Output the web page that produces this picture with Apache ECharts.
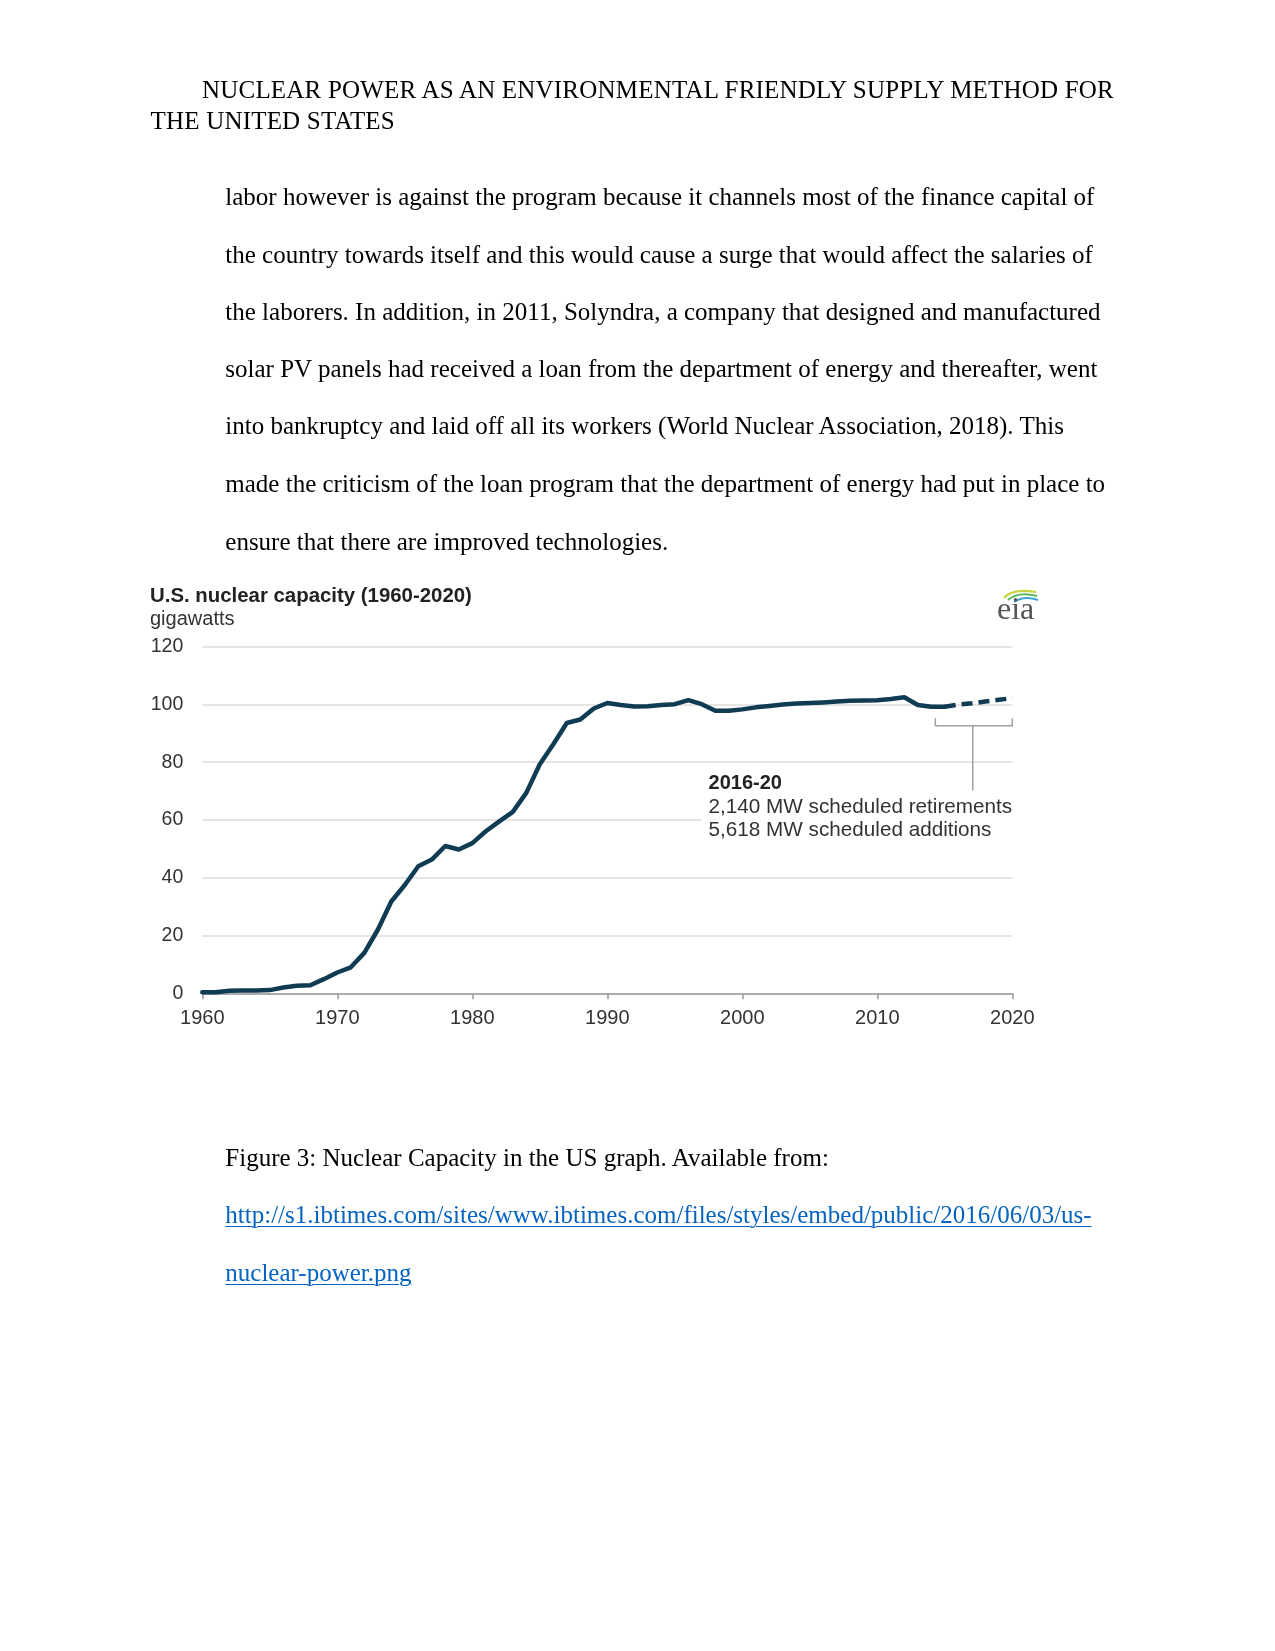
<!DOCTYPE html>
<html>
<head>
<meta charset="utf-8">
<script src="https://cdn.jsdelivr.net/npm/echarts@6/dist/echarts.min.js"></script>
<style>
  html, body { margin:0; padding:0; background:#fff; }
  #page { position:relative; width:1275px; height:1651px; overflow:hidden; }
  #chart { position:absolute; left:0; top:0; width:1275px; height:1651px; }
  .t { position:absolute; white-space:pre; font-family:'Liberation Serif','Times New Roman',serif;
       font-size:25px; line-height:25px; color:#000; z-index:2; }
  .hd { letter-spacing:0.2px; }
  .lnk { color:#0563c1; text-decoration:underline; text-decoration-thickness:1px; text-underline-offset:3px; }
</style>
</head>
<body>
<div id="page">
  <div id="chart"></div>
</div>
<script>
// ---- document text ----
const headerLines = [
  "NUCLEAR POWER AS AN ENVIRONMENTAL FRIENDLY SUPPLY METHOD FOR",
  "THE UNITED STATES"
];
const bodyLines = [
  "labor however is against the program because it channels most of the finance capital of",
  "the country towards itself and this would cause a surge that would affect the salaries of",
  "the laborers. In addition, in 2011, Solyndra, a company that designed and manufactured",
  "solar PV panels had received a loan from the department of energy and thereafter, went",
  "into bankruptcy and laid off all its workers (World Nuclear Association, 2018). This",
  "made the criticism of the loan program that the department of energy had put in place to",
  "ensure that there are improved technologies."
];
const captionText = "Figure 3: Nuclear Capacity in the US graph. Available from:";
const linkLines = [
  "http://s1.ibtimes.com/sites/www.ibtimes.com/files/styles/embed/public/2016/06/03/us-",
  "nuclear-power.png"
];

// ---- chart data (gigawatts) ----
const chartTitle = "U.S. nuclear capacity (1960-2020)";
const unitLabel = "gigawatts";
const histYears = [1960,1961,1962,1963,1964,1965,1966,1967,1968,1969,
  1970,1971,1972,1973,1974,1975,1976,1977,1978,1979,
  1980,1981,1982,1983,1984,1985,1986,1987,1988,1989,
  1990,1991,1992,1993,1994,1995,1996,1997,1998,1999,
  2000,2001,2002,2003,2004,2005,2006,2007,2008,2009,
  2010,2011,2012,2013,2014,2015];
const histCapacity = [0.4,0.4,0.9,1.0,1.0,1.1,2.0,2.6,2.8,4.9,
  7.2,9.0,14.0,22.0,31.8,37.5,44.0,46.3,51.0,49.8,
  52.0,56.1,59.5,62.8,69.4,79.3,86.2,93.6,94.8,98.6,
  100.5,99.8,99.3,99.4,99.8,100.1,101.5,100.1,97.8,97.8,
  98.3,99.0,99.5,100.0,100.3,100.5,100.7,101.0,101.3,101.4,
  101.5,101.9,102.5,99.8,99.2,99.2];
const projYears = [2015,2016,2017,2018,2019,2020];
const projCapacity = [99.2,100.0,100.4,101.0,101.6,102.2];
const noteTitle = "2016-20";
const noteLines = ["2,140 MW scheduled retirements", "5,618 MW scheduled additions"];

// place document text
const page = document.getElementById('page');
function addText(str, left, centerY, cls) {
  const d = document.createElement('div');
  d.className = 't' + (cls ? ' ' + cls : '');
  d.textContent = str;
  d.style.left = left + 'px';
  d.style.top = (centerY - 13) + 'px';
  page.appendChild(d);
}
addText(headerLines[0], 202, 89.5, 'hd');
addText(headerLines[1], 150.5, 121, 'hd');
const bodyY = [197, 254.5, 311.7, 368.7, 426.3, 484.3, 542.2];
bodyLines.forEach((l, i) => addText(l, 225.3, bodyY[i]));
addText(captionText, 225.3, 1158);
addText(linkLines[0], 225.3, 1215, 'lnk');
addText(linkLines[1], 225.3, 1273, 'lnk');

// ---- chart ----
const chart = echarts.init(document.getElementById('chart'), null, { renderer: 'canvas' });
const lineColor = '#0f3b53';
const font = "'Liberation Sans', Arial, sans-serif";
const histData = histYears.map((y, i) => [y, histCapacity[i]]);
const projData = projYears.map((y, i) => [y, projCapacity[i]]);

const gridLeft = 202.3, gridRight = 1012.3, gridTop = 646.7, gridBottom = 993.3;

chart.setOption({
  animation: false,
  backgroundColor: 'transparent',
  textStyle: { fontFamily: font },
  grid: { left: gridLeft, top: gridTop, width: gridRight - gridLeft, height: gridBottom - gridTop, containLabel: false },
  xAxis: {
    type: 'value', min: 1960, max: 2020, interval: 10,
    axisLine: { show: true, lineStyle: { color: '#999', width: 1.5 } },
    axisTick: { show: true, length: 6, lineStyle: { color: '#999', width: 1.5 } },
    axisLabel: { color: '#333', fontSize: 20, fontFamily: font, margin: 15, formatter: v => String(v) },
    splitLine: { show: false }
  },
  yAxis: {
    type: 'value', min: 0, max: 120, interval: 20,
    axisLine: { show: false }, axisTick: { show: false },
    axisLabel: { color: '#333', fontSize: 19.5, fontFamily: font, margin: 19 },
    splitLine: { show: true, lineStyle: { color: '#dcdcdc', width: 1.5 } }
  },
  series: [
    { type: 'line', data: histData, symbol: 'none', z: 5,
      lineStyle: { color: lineColor, width: 4.5, cap: 'round', join: 'round' } },
    { type: 'line', data: projData, symbol: 'none', z: 5,
      lineStyle: { color: lineColor, width: 4.5, type: [11, 6], cap: 'butt' } }
  ]
});

// annotation and decorations positioned via axis scales
function px(x, y) { return chart.convertToPixel({ gridIndex: 0 }, [x, y]); }
const bL = px(2014.3, 95.2), bR = px(2020, 92.6), stem = px(2017.07, 70.2), bMid = px(2017.07, 92.6);
const noteAnchor = px(1997.5, 76.0);
chart.setOption({
  graphic: [
    { type: 'text', left: 150, top: 586, z: 10,
      style: { text: chartTitle, font: "bold 20.4px " + font, fill: '#222' } },
    { type: 'text', left: 150, top: 609, z: 10,
      style: { text: unitLabel, font: "20px " + font, fill: '#333' } },
    // bracket
    { type: 'polyline', z: 10, shape: { points: [[bL[0], bL[1]], [bL[0], bR[1]], [bR[0], bR[1]], [bR[0], bL[1]]] },
      style: { stroke: '#a0a0a0', lineWidth: 1.5, fill: null } },
    { type: 'line', z: 10, shape: { x1: bMid[0], y1: bMid[1], x2: stem[0], y2: stem[1] },
      style: { stroke: '#a0a0a0', lineWidth: 1.5 } },
    // annotation text box (white background hides grid line)
    { type: 'rect', z: 9, shape: { x: noteAnchor[0] - 7, y: noteAnchor[1] + 20, width: 312, height: 46 },
      style: { fill: '#fff' } },
    { type: 'text', z: 11, x: noteAnchor[0], y: noteAnchor[1],
      style: { text: noteTitle, font: "bold 20px " + font, fill: '#222' } },
    { type: 'text', z: 11, x: noteAnchor[0], y: noteAnchor[1] + 23,
      style: { text: noteLines[0], font: "20.7px " + font, fill: '#333' } },
    { type: 'text', z: 11, x: noteAnchor[0], y: noteAnchor[1] + 46,
      style: { text: noteLines[1], font: "20.7px " + font, fill: '#333' } },
    // eia logo
    { type: 'bezierCurve', z: 10, shape: { x1: 1004, y1: 598, cpx1: 1012, cpy1: 588, x2: 1036, y2: 592 },
      style: { stroke: '#c9d340', lineWidth: 2.2, fill: null } },
    { type: 'bezierCurve', z: 10, shape: { x1: 1008, y1: 600, cpx1: 1018, cpy1: 591, x2: 1037, y2: 596 },
      style: { stroke: '#5db85a', lineWidth: 2, fill: null } },
    { type: 'bezierCurve', z: 10, shape: { x1: 1014, y1: 602, cpx1: 1024, cpy1: 595, x2: 1038, y2: 600 },
      style: { stroke: '#3fa3d6', lineWidth: 2, fill: null } },
    { type: 'text', z: 10, left: 997, top: 595,
      style: { text: 'eia', font: "32px 'Liberation Serif', 'Times New Roman', serif", fill: '#555' } }
  ]
});
</script>
</body>
</html>
